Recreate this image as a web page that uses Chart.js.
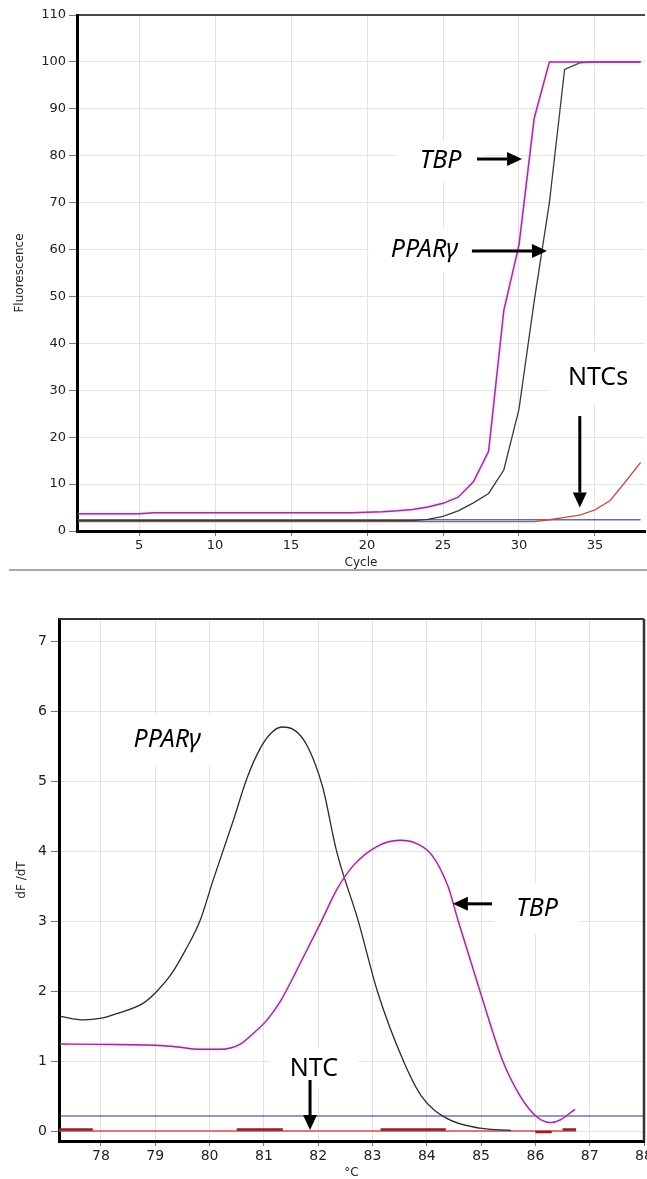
<!DOCTYPE html>
<html>
<head>
<meta charset="utf-8">
<script src="https://cdn.jsdelivr.net/npm/chart.js@4.4.1/dist/chart.umd.min.js"></script>
<style>
  html, body { margin: 0; padding: 0; background: #fff; }
  body { width: 647px; height: 1179px; position: relative; overflow: hidden; }
  #amp-wrap { position: absolute; left: 0; top: 0; width: 647px; height: 578px; }
  #melt-wrap { position: absolute; left: 0; top: 595px; width: 647px; height: 584px; }
  #sep { position: absolute; left: 9px; top: 569px; width: 638px; height: 0; border-top: 2px solid #a9a9a2; }
</style>
</head>
<body>
<div id="amp-wrap"><canvas id="amp-canvas" width="647" height="578"></canvas></div>
<div id="sep"></div>
<div id="melt-wrap"><canvas id="melt-canvas" width="647" height="584"></canvas></div>
<script>
// Amplification plot (top)
const cycles = [1, 2, 3, 4, 5, 6, 7, 8, 9, 10, 11, 12, 13, 14, 15, 16, 17, 18, 19, 20,
  21, 22, 23, 24, 25, 26, 27, 28, 29, 30, 31, 32, 33, 34, 35, 36, 37, 38];
const tbpFluor = [3.7, 3.7, 3.7, 3.7, 3.7, 3.9, 3.9, 3.9, 3.9, 3.9, 3.9, 3.9, 3.9, 3.9, 3.9, 3.9, 3.9, 3.9, 3.9,
  4.0, 4.1, 4.3, 4.6, 5.1, 5.9, 7.2, 10.5, 17, 47, 61, 88, 100, 100, 100, 100, 100, 100, 100];
const ppargFluor = [2.2, 2.2, 2.2, 2.2, 2.2, 2.2, 2.2, 2.2, 2.2, 2.2, 2.2, 2.2, 2.2, 2.2, 2.2, 2.2, 2.2, 2.2, 2.2, 2.2, 2.2, 2.2, 2.2,
  2.5, 3.1, 4.3, 6.0, 8.0, 13, 26, 49, 70, 98.4, 99.8, 100, 100, 100, 100];
const ntcRedFluor = [2.0, 2.0, 2.0, 2.0, 2.0, 2.0, 2.0, 2.0, 2.0, 2.0, 2.0, 2.0, 2.0, 2.0, 2.0, 2.0, 2.0, 2.0, 2.0, 2.0,
  2.0, 2.0, 2.0, 2.0, 2.0, 2.0, 2.0, 2.0, 2.0, 2.0, 2.0, 2.4, 2.9, 3.4, 4.5, 6.5, 10.5, 14.6];
const ntcBlueFluor = [2.4, 2.4, 2.4, 2.4, 2.4, 2.4, 2.4, 2.4, 2.4, 2.4, 2.4, 2.4, 2.4, 2.4, 2.4, 2.4, 2.4, 2.4, 2.4, 2.4,
  2.4, 2.4, 2.4, 2.4, 2.4, 2.4, 2.4, 2.4, 2.4, 2.4, 2.4, 2.4, 2.4, 2.4, 2.4, 2.4, 2.4, 2.4];
const cycleTicks = [5, 10, 15, 20, 25, 30, 35];
const fluorTicks = [0, 10, 20, 30, 40, 50, 60, 70, 80, 90, 100, 110];

// Melt curve (bottom)
const ppargTemp = [77.25, 77.68, 77.98, 78.29, 78.78, 79.03, 79.3, 79.55, 79.82, 80.07, 80.44, 80.69, 80.93, 81.13,
  81.33, 81.53, 81.73, 81.92, 82.09, 82.34, 82.74, 83.09, 83.57, 83.9, 84.37, 84.98, 85.55];
const ppargDfdt = [1.64, 1.59, 1.61, 1.68, 1.83, 2.0, 2.25, 2.58, 3.0, 3.6, 4.45, 5.05, 5.47, 5.69,
  5.78, 5.75, 5.6, 5.3, 4.9, 4.0, 3.0, 2.0, 1.0, 0.5, 0.18, 0.04, 0.01];
const tbpTemp = [77.25, 78.0, 78.85, 79.33, 79.83, 80.2, 80.56, 80.81, 81.06, 81.3, 81.67, 82.04, 82.34, 82.65,
  83.08, 83.51, 83.79, 84.09, 84.39, 84.58, 84.98, 85.4, 85.72, 86.03, 86.28, 86.46, 86.73];
const tbpDfdt = [1.245, 1.24, 1.23, 1.21, 1.17, 1.17, 1.24, 1.40, 1.59, 1.85, 2.40, 2.97, 3.45, 3.80,
  4.07, 4.16, 4.12, 3.95, 3.5, 3.0, 2.0, 1.0, 0.5, 0.20, 0.12, 0.16, 0.31];
const ntcTemp = [77.23, 86.75];
const ntcDfdt = [0, 0];
const ntcPeakTemp = [77.23, 77.85, 77.86, 80.5, 81.35, 81.36, 83.15, 84.35, 84.36, 86.0, 86.3, 86.31, 86.5, 86.75];
const ntcPeakDfdt = [0.02, 0.02, null, 0.02, 0.02, null, 0.02, 0.02, null, -0.015, -0.015, null, 0.02, 0.02];
const thresholdTemp = [77.23, 88];
const thresholdDfdt = [0.215, 0.215];
const tempTicks = [78, 79, 80, 81, 82, 83, 84, 85, 86, 87, 88];
const dfdtTicks = [0, 1, 2, 3, 4, 5, 6, 7];

function pairs(xs, ys) {
  return xs.map((v, i) => ({ x: v, y: ys[i] }));
}

const LABEL_FONT = 'italic 25px "Noto Sans"';
const PLAIN_FONT = '25px "Noto Sans"';

function drawArrow(ctx, x1, y1, x2, y2) {
  const ang = Math.atan2(y2 - y1, x2 - x1);
  const head = 15, half = 7;
  const bx = x2 - head * Math.cos(ang), by = y2 - head * Math.sin(ang);
  ctx.lineWidth = 3;
  ctx.beginPath();
  ctx.moveTo(x1, y1);
  ctx.lineTo(bx, by);
  ctx.stroke();
  ctx.beginPath();
  ctx.moveTo(x2, y2);
  ctx.lineTo(bx + half * Math.sin(ang), by - half * Math.cos(ang));
  ctx.lineTo(bx - half * Math.sin(ang), by + half * Math.cos(ang));
  ctx.closePath();
  ctx.fill();
}

// white boxes under labels, then labels and arrows on top of the curves
const notesPlugin = {
  id: 'notes',
  beforeDatasetsDraw(chart, args, opts) {
    const { ctx, scales: { x, y } } = chart;
    ctx.save();
    ctx.fillStyle = '#fff';
    for (const n of opts.labels) {
      ctx.font = n.font;
      const w = ctx.measureText(n.text).width;
      const cx = x.getPixelForValue(n.x), cy = y.getPixelForValue(n.y);
      ctx.fillRect(cx - w / 2 - n.padX, cy - n.padY, w + 2 * n.padX, 2 * n.padY);
    }
    ctx.restore();
  },
  afterDatasetsDraw(chart, args, opts) {
    const { ctx, scales: { x, y } } = chart;
    ctx.save();
    ctx.fillStyle = '#000';
    ctx.strokeStyle = '#000';
    ctx.textAlign = 'center';
    ctx.textBaseline = 'middle';
    for (const n of opts.labels) {
      ctx.font = n.font;
      ctx.fillText(n.text, x.getPixelForValue(n.x), y.getPixelForValue(n.y));
    }
    for (const a of opts.arrows) {
      drawArrow(ctx, x.getPixelForValue(a.x1), y.getPixelForValue(a.y1),
        x.getPixelForValue(a.x2), y.getPixelForValue(a.y2));
    }
    ctx.restore();
  }
};

const framePlugin = {
  id: 'frame',
  afterDraw(chart, args, opts) {
    const { ctx, chartArea: a } = chart;
    ctx.save();
    ctx.strokeStyle = opts.color;
    ctx.lineWidth = opts.topWidth;
    ctx.beginPath();
    ctx.moveTo(a.left, a.top);
    ctx.lineTo(a.right, a.top);
    ctx.stroke();
    if (opts.rightWidth) {
      ctx.lineWidth = opts.rightWidth;
      ctx.beginPath();
      ctx.moveTo(a.right, a.top);
      ctx.lineTo(a.right, a.bottom);
      ctx.stroke();
    }
    ctx.restore();
  }
};

// pink halo on the TBP trace
const glowPlugin = {
  id: 'glow',
  beforeDatasetDraw(chart, args) {
    const ds = chart.data.datasets[args.index];
    chart.ctx.save();
    if (ds.glow) {
      chart.ctx.shadowColor = ds.glow;
      chart.ctx.shadowBlur = 3;
    }
  },
  afterDatasetDraw(chart) {
    chart.ctx.restore();
  }
};

const tickFont = { family: 'DejaVu Sans', size: 13 };

new Chart(document.getElementById('amp-canvas'), {
  type: 'line',
  data: {
    datasets: [
      { data: pairs(cycles, tbpFluor), borderColor: '#97359a', borderWidth: 1.5, glow: 'rgba(235,150,235,0.75)' },
      { data: pairs(cycles, ppargFluor), borderColor: '#3a3a3a', borderWidth: 1.3 },
      { data: pairs(cycles, ntcRedFluor), borderColor: '#c0504a', borderWidth: 1.3 },
      { data: pairs(cycles, ntcBlueFluor), borderColor: '#6a60c8', borderWidth: 1.3 },
    ],
  },
  options: {
    responsive: false,
    animation: false,
    devicePixelRatio: 1,
    layout: { padding: { top: 15, right: 2, left: 0, bottom: 0 } },
    elements: { point: { radius: 0 }, line: { tension: 0 } },
    scales: {
      x: {
        type: 'linear',
        min: 0.92,
        max: 38.29,
        afterBuildTicks: (s) => { s.ticks = cycleTicks.map((v) => ({ value: v })); },
        afterFit: (s) => { s.height = 47; s.paddingLeft = 0; s.paddingRight = 0; },
        grid: { color: '#e3e3e3', tickColor: '#777', tickLength: 5 },
        border: { color: '#000', width: 3 },
        ticks: { color: '#222', font: tickFont, padding: 2, maxRotation: 0, autoSkip: false },
        title: { display: true, text: 'Cycle', color: '#222', font: { family: 'DejaVu Sans', size: 12 }, padding: { top: 0, bottom: 8 } },
      },
      y: {
        type: 'linear',
        min: 0,
        max: 110,
        afterBuildTicks: (s) => { s.ticks = fluorTicks.map((v) => ({ value: v })); },
        afterFit: (s) => { s.width = 77; s.paddingTop = 0; s.paddingBottom = 0; },
        grid: { color: '#e3e3e3', tickColor: '#777', tickLength: 8 },
        border: { color: '#000', width: 3 },
        ticks: { color: '#222', font: tickFont, padding: 3, autoSkip: false },
        title: { display: true, text: 'Fluorescence', color: '#222', font: { family: 'DejaVu Sans', size: 12 }, padding: { top: 13, bottom: 0 } },
      },
    },
    plugins: {
      legend: { display: false },
      tooltip: { enabled: false },
      frame: { color: '#111', topWidth: 1.5 },
      notes: {
        labels: [
          { text: 'TBP', x: 24.84, y: 78.9, font: LABEL_FONT, padX: 24, padY: 20 },
          { text: 'PPARγ', x: 23.78, y: 59.9, font: LABEL_FONT, padX: 22, padY: 22 },
          { text: 'NTCs', x: 35.2, y: 32.6, font: PLAIN_FONT, padX: 20, padY: 26 },
        ],
        arrows: [
          { x1: 27.24, y1: 79.3, x2: 30.2, y2: 79.3 },
          { x1: 26.9, y1: 59.7, x2: 31.84, y2: 59.7 },
          { x1: 34.0, y1: 24.5, x2: 34.0, y2: 5.0 },
        ],
      },
    },
  },
  plugins: [notesPlugin, framePlugin, glowPlugin],
});

const meltTickFont = { family: 'DejaVu Sans', size: 14 };

new Chart(document.getElementById('melt-canvas'), {
  type: 'line',
  data: {
    datasets: [
      { data: pairs(tbpTemp, tbpDfdt), borderColor: '#8e348e', borderWidth: 1.4, glow: 'rgba(235,150,235,0.75)' },
      { data: pairs(ppargTemp, ppargDfdt), borderColor: '#2a2a2a', borderWidth: 1.3 },
      { data: pairs(ntcPeakTemp, ntcPeakDfdt), borderColor: '#8e1f24', borderWidth: 2.5, spanGaps: false },
      { data: pairs(ntcTemp, ntcDfdt), borderColor: '#e04a4a', borderWidth: 1.3 },
      { data: pairs(thresholdTemp, thresholdDfdt), borderColor: '#30308a', borderWidth: 1.2 },
    ],
  },
  options: {
    responsive: false,
    animation: false,
    devicePixelRatio: 1,
    layout: { padding: { top: 24, right: 3, left: 0, bottom: 0 } },
    elements: { point: { radius: 0 }, line: { cubicInterpolationMode: 'monotone' } },
    scales: {
      x: {
        type: 'linear',
        min: 77.227,
        max: 88,
        afterBuildTicks: (s) => { s.ticks = tempTicks.map((v) => ({ value: v })); },
        afterFit: (s) => { s.height = 38; s.paddingLeft = 0; s.paddingRight = 0; },
        grid: { color: '#e3e3e3', tickColor: '#777', tickLength: 5 },
        border: { color: '#000', width: 3 },
        ticks: { color: '#222', font: meltTickFont, padding: 2, maxRotation: 0, autoSkip: false },
        title: { display: true, text: '°C', color: '#222', font: { family: 'DejaVu Sans', size: 12, lineHeight: 1 }, padding: { top: 0, bottom: 0 } },
      },
      y: {
        type: 'linear',
        min: -0.143,
        max: 7.325,
        afterBuildTicks: (s) => { s.ticks = dfdtTicks.map((v) => ({ value: v })); },
        afterFit: (s) => { s.width = 59; s.paddingTop = 0; s.paddingBottom = 0; },
        grid: { color: '#e3e3e3', tickColor: '#777', tickLength: 8 },
        border: { color: '#000', width: 3 },
        ticks: { color: '#222', font: meltTickFont, padding: 4, autoSkip: false },
        title: { display: true, text: 'dF /dT', color: '#222', font: { family: 'DejaVu Sans', size: 12 }, padding: { top: 15, bottom: 0 } },
      },
    },
    plugins: {
      legend: { display: false },
      tooltip: { enabled: false },
      frame: { color: '#333', topWidth: 2, rightWidth: 2.5 },
      notes: {
        labels: [
          { text: 'PPARγ', x: 79.22, y: 5.59, font: LABEL_FONT, padX: 22, padY: 25 },
          { text: 'TBP', x: 86.03, y: 3.18, font: LABEL_FONT, padX: 22, padY: 25 },
          { text: 'NTC', x: 81.92, y: 0.89, font: PLAIN_FONT, padX: 20, padY: 20 },
        ],
        arrows: [
          { x1: 85.2, y1: 3.25, x2: 84.48, y2: 3.25 },
          { x1: 81.85, y1: 0.73, x2: 81.85, y2: 0.014 },
        ],
      },
    },
  },
  plugins: [notesPlugin, framePlugin, glowPlugin],
});
</script>
</body>
</html>
